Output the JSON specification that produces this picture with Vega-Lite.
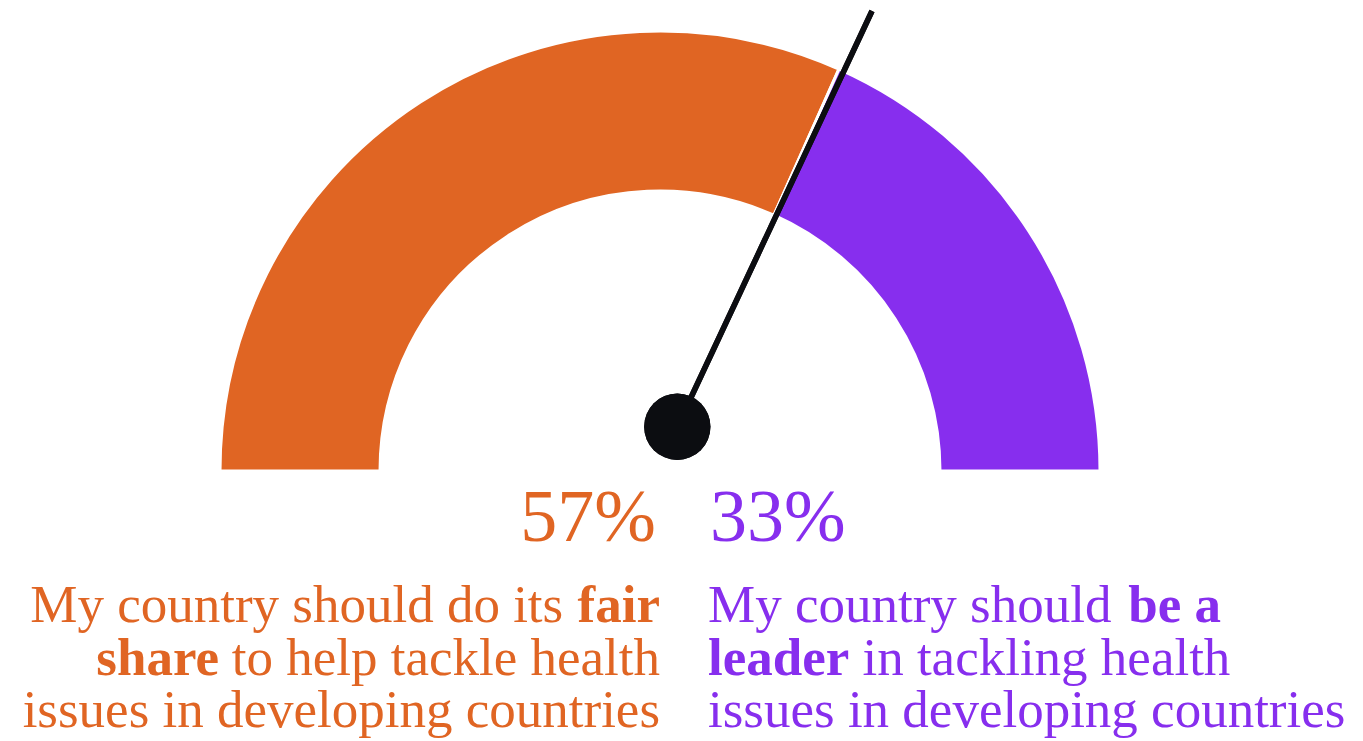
{
  "$schema": "https://vega.github.io/schema/vega-lite/v6.json",
  "width": 1363,
  "height": 741,
  "autosize": {"type": "fit", "contains": "padding"},
  "padding": 0,
  "background": "white",
  "config": {"view": {"stroke": null}, "axis": {"disable": true}},
  "datasets": {
    "gauge": [
      {"group": "fair share", "value": 57, "order": 1, "label": "57%"},
      {"group": "be a leader", "value": 33, "order": 2, "label": "33%"}
    ]
  },
  "data": {"name": "gauge"},
  "layer": [
    {
      "mark": {"type": "arc", "outerRadius": 440, "innerRadius": 280, "stroke": "white", "strokeWidth": 3},
      "encoding": {
        "x": {"datum": 0, "type": "quantitative", "scale": {"domain": [-1.5, 1.5977], "nice": false, "zero": false}},
        "y": {"datum": 0, "type": "quantitative", "scale": {"domain": [-0.6136, 1.0705], "nice": false, "zero": false}},
        "theta": {"field": "value", "type": "quantitative", "stack": true, "scale": {"range": [-1.5708, 1.5708]}},
        "order": {"field": "order"},
        "color": {"field": "group", "type": "nominal", "scale": {"domain": ["fair share", "be a leader"], "range": ["#E06523", "#872EEE"]}, "legend": null}
      }
    },
    {
      "mark": {"type": "rule", "strokeWidth": 5.5, "color": "#0C0D11", "strokeCap": "butt"},
      "encoding": {
        "x": {"datum": 0.0393, "type": "quantitative"},
        "y": {"datum": 0.1007, "type": "quantitative"},
        "x2": {"datum": 0.4818},
        "y2": {"datum": 1.0455}
      }
    },
    {
      "mark": {"type": "circle", "size": 4400, "color": "#0C0D11", "opacity": 1},
      "encoding": {
        "x": {"datum": 0.0393, "type": "quantitative"},
        "y": {"datum": 0.1007, "type": "quantitative"}
      }
    },
    {
      "transform": [{"filter": "datum.order == 1"}],
      "mark": {"type": "text", "font": "Liberation Serif", "fontSize": 74, "align": "right", "baseline": "alphabetic", "color": "#E06523"},
      "encoding": {
        "x": {"datum": -0.0091, "type": "quantitative"},
        "y": {"datum": -0.159, "type": "quantitative"},
        "text": {"field": "label"}
      }
    },
    {
      "transform": [{"filter": "datum.order == 2"}],
      "mark": {"type": "text", "font": "Liberation Serif", "fontSize": 74, "align": "left", "baseline": "alphabetic", "color": "#872EEE"},
      "encoding": {
        "x": {"datum": 0.1136, "type": "quantitative"},
        "y": {"datum": -0.159, "type": "quantitative"},
        "text": {"field": "label"}
      }
    },
    {
      "data": {"values": [{}]},
      "mark": {"type": "text", "text": "My country should do its", "font": "Liberation Serif", "fontSize": 53, "align": "right", "baseline": "alphabetic", "color": "#E06523"},
      "encoding": {"x": {"datum": -0.22, "type": "quantitative"}, "y": {"datum": -0.3432, "type": "quantitative"}}
    },
    {
      "data": {"values": [{}]},
      "mark": {"type": "text", "text": "fair", "font": "Liberation Serif", "fontWeight": "bold", "fontSize": 53, "align": "right", "baseline": "alphabetic", "color": "#E06523"},
      "encoding": {"x": {"datum": 0, "type": "quantitative"}, "y": {"datum": -0.3432, "type": "quantitative"}}
    },
    {
      "data": {"values": [{}]},
      "mark": {"type": "text", "text": "share", "font": "Liberation Serif", "fontWeight": "bold", "fontSize": 53, "align": "right", "baseline": "alphabetic", "color": "#E06523"},
      "encoding": {"x": {"datum": -1.0023, "type": "quantitative"}, "y": {"datum": -0.4636, "type": "quantitative"}}
    },
    {
      "data": {"values": [{}]},
      "mark": {"type": "text", "text": "to help tackle health", "font": "Liberation Serif", "fontSize": 53, "align": "right", "baseline": "alphabetic", "color": "#E06523"},
      "encoding": {"x": {"datum": 0, "type": "quantitative"}, "y": {"datum": -0.4636, "type": "quantitative"}}
    },
    {
      "data": {"values": [{}]},
      "mark": {"type": "text", "text": "issues in developing countries", "font": "Liberation Serif", "fontSize": 53, "align": "right", "baseline": "alphabetic", "color": "#E06523"},
      "encoding": {"x": {"datum": 0, "type": "quantitative"}, "y": {"datum": -0.5818, "type": "quantitative"}}
    },
    {
      "data": {"values": [{}]},
      "mark": {"type": "text", "text": "My country should", "font": "Liberation Serif", "fontSize": 53, "align": "left", "baseline": "alphabetic", "color": "#872EEE"},
      "encoding": {"x": {"datum": 0.1091, "type": "quantitative"}, "y": {"datum": -0.3432, "type": "quantitative"}}
    },
    {
      "data": {"values": [{}]},
      "mark": {"type": "text", "text": "be a", "font": "Liberation Serif", "fontWeight": "bold", "fontSize": 53, "align": "left", "baseline": "alphabetic", "color": "#872EEE"},
      "encoding": {"x": {"datum": 1.064, "type": "quantitative"}, "y": {"datum": -0.3432, "type": "quantitative"}}
    },
    {
      "data": {"values": [{}]},
      "mark": {"type": "text", "text": "leader", "font": "Liberation Serif", "fontWeight": "bold", "fontSize": 53, "align": "left", "baseline": "alphabetic", "color": "#872EEE"},
      "encoding": {"x": {"datum": 0.1091, "type": "quantitative"}, "y": {"datum": -0.4636, "type": "quantitative"}}
    },
    {
      "data": {"values": [{}]},
      "mark": {"type": "text", "text": "in tackling health", "font": "Liberation Serif", "fontSize": 53, "align": "left", "baseline": "alphabetic", "color": "#872EEE"},
      "encoding": {"x": {"datum": 0.46, "type": "quantitative"}, "y": {"datum": -0.4636, "type": "quantitative"}}
    },
    {
      "data": {"values": [{}]},
      "mark": {"type": "text", "text": "issues in developing countries", "font": "Liberation Serif", "fontSize": 53, "align": "left", "baseline": "alphabetic", "color": "#872EEE"},
      "encoding": {"x": {"datum": 0.1091, "type": "quantitative"}, "y": {"datum": -0.5818, "type": "quantitative"}}
    }
  ]
}
